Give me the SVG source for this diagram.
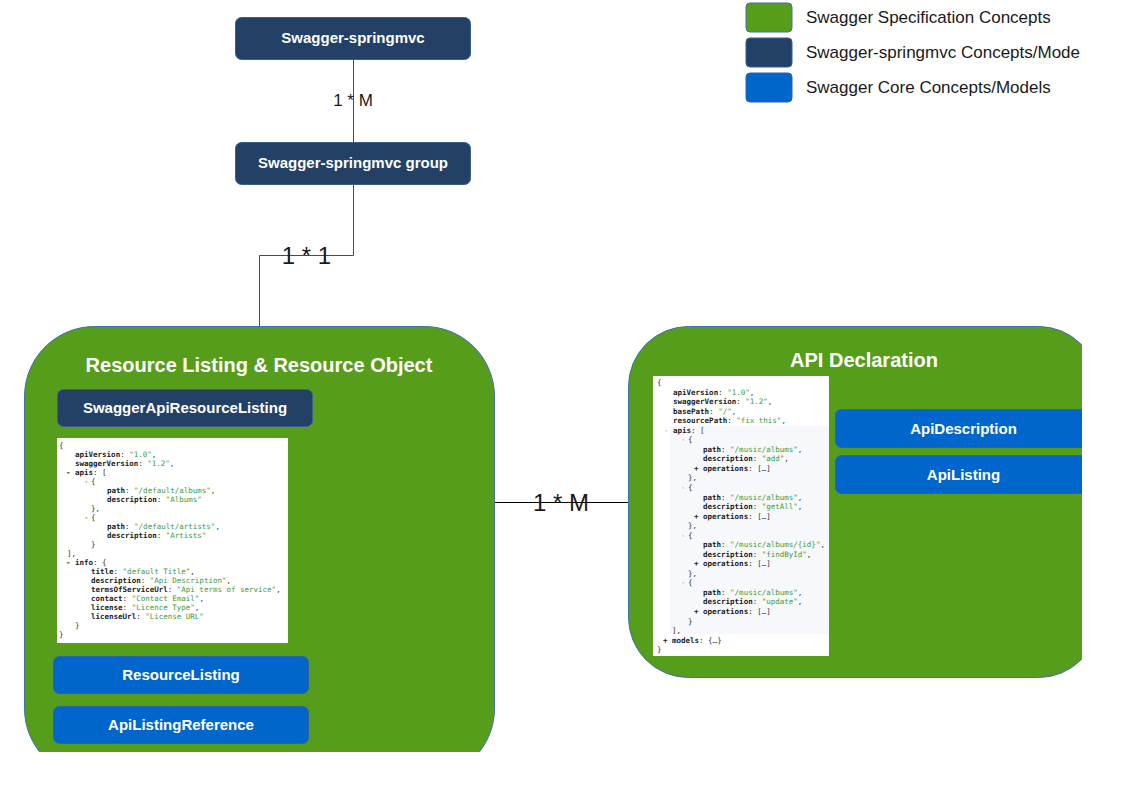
<svg xmlns="http://www.w3.org/2000/svg" width="1123" height="794" viewBox="0 0 1123 794">
<style>
.navy{fill:#234166;stroke:#3a5f8f;stroke-width:1}
.blue{fill:#0066cc;stroke:#2a62b0;stroke-width:1}
.green{fill:#579d1c;stroke:#3f6fb5;stroke-width:1}
.lbl{font-family:"Liberation Sans",Arial,sans-serif;font-weight:bold;fill:#ffffff;text-anchor:middle}
.nl{font-size:15px}
.title{font-size:20px}
.leg{font-family:"Liberation Sans",Arial,sans-serif;font-size:17px;fill:#1a1a1a}
.conn{fill:none;stroke:#2f4f7f;stroke-width:1}
.connb{fill:none;stroke:#000000;stroke-width:1.2}
.cl{font-family:"Liberation Sans",Arial,sans-serif;fill:#1a1a1a;text-anchor:middle}
.code{font-family:"DejaVu Sans Mono","Liberation Mono",monospace;font-size:7.5px;fill:#333333}
.k{font-weight:bold;fill:#1a1a1a}
.s{fill:#3a9a3a}
.m{fill:#999999}
</style>
<defs>
<clipPath id="clipL"><rect x="0" y="0" width="1123" height="752"/></clipPath>
<clipPath id="clipR"><rect x="0" y="0" width="1082" height="794"/></clipPath>
</defs>
<rect x="0" y="0" width="1123" height="794" fill="#ffffff"/>

<g id="legend">
<rect class="green" x="746" y="3" width="46" height="29" rx="4"/>
<rect class="navy" x="746" y="38" width="46" height="29" rx="4"/>
<rect class="blue" x="746" y="73" width="46" height="29" rx="4"/>
<text class="leg" x="806" y="23">Swagger Specification Concepts</text>
<text class="leg" x="806" y="58">Swagger-springmvc Concepts/Mode</text>
<text class="leg" x="806" y="93">Swagger Core Concepts/Models</text>
</g>

<g id="connectors">
<path class="conn" d="M353.5 59 V142"/>
<text class="cl" x="353" y="106" font-size="17">1 * M</text>
<path class="conn" d="M353.5 184 V255.5 H259.5 V326"/>
<text class="cl" x="306.5" y="264" font-size="24" fill="#000">1 * 1</text>
<path class="connb" d="M494 502.5 H628"/>
<text class="cl" x="561" y="511" font-size="24" fill="#000">1 * M</text>
</g>

<g id="swagger-springmvc">
<rect class="navy" x="235.5" y="17.5" width="235" height="42" rx="6"/>
<text class="lbl nl" x="353" y="43">Swagger-springmvc</text>
</g>

<g id="swagger-springmvc-group">
<rect class="navy" x="235.5" y="142.5" width="235" height="42" rx="6"/>
<text class="lbl nl" x="353" y="168">Swagger-springmvc group</text>
</g>

<g id="resource-listing-container" clip-path="url(#clipL)">
<rect class="green" x="24.5" y="326.5" width="470" height="452" rx="70"/>
<text class="lbl title" x="259" y="372">Resource Listing &amp; Resource Object</text>
</g>

<g id="swagger-api-resource-listing">
<rect class="navy" x="57.5" y="389.5" width="255" height="37" rx="6"/>
<text class="lbl nl" x="185" y="413">SwaggerApiResourceListing</text>
</g>

<g id="resource-listing-json">
<rect x="57" y="438" width="231" height="205" fill="#ffffff"/>
<g class="code">
<text x="59" y="448">{</text>
<text x="75" y="457"><tspan class="k">apiVersion</tspan>: <tspan class="s">"1.0"</tspan>,</text>
<text x="75" y="466"><tspan class="k">swaggerVersion</tspan>: <tspan class="s">"1.2"</tspan>,</text>
<text x="66" y="475" class="k">-</text><text x="75" y="475"><tspan class="k">apis</tspan>: [</text>
<text x="84" y="484">-</text><text x="91" y="484">{</text>
<text x="107" y="493"><tspan class="k">path</tspan>: <tspan class="s">"/default/albums"</tspan>,</text>
<text x="107" y="502"><tspan class="k">description</tspan>: <tspan class="s">"Albums"</tspan></text>
<text x="91" y="511">},</text>
<text x="84" y="520">-</text><text x="91" y="520">{</text>
<text x="107" y="529"><tspan class="k">path</tspan>: <tspan class="s">"/default/artists"</tspan>,</text>
<text x="107" y="538"><tspan class="k">description</tspan>: <tspan class="s">"Artists"</tspan></text>
<text x="91" y="547">}</text>
<text x="67" y="556">],</text>
<text x="66" y="565" class="k">-</text><text x="75" y="565"><tspan class="k">info</tspan>: {</text>
<text x="91" y="574"><tspan class="k">title</tspan>: <tspan class="s">"default Title"</tspan>,</text>
<text x="91" y="583"><tspan class="k">description</tspan>: <tspan class="s">"Api Description"</tspan>,</text>
<text x="91" y="592"><tspan class="k">termsOfServiceUrl</tspan>: <tspan class="s">"Api terms of service"</tspan>,</text>
<text x="91" y="601"><tspan class="k">contact</tspan>: <tspan class="s">"Contact Email"</tspan>,</text>
<text x="91" y="610"><tspan class="k">license</tspan>: <tspan class="s">"Licence Type"</tspan>,</text>
<text x="91" y="619"><tspan class="k">licenseUrl</tspan>: <tspan class="s">"License URL"</tspan></text>
<text x="75" y="628">}</text>
<text x="59" y="637">}</text>
</g>
</g>

<g id="resource-listing">
<rect class="blue" x="53.5" y="656.5" width="255" height="37" rx="6"/>
<text class="lbl nl" x="181" y="680">ResourceListing</text>
</g>

<g id="api-listing-reference">
<rect class="blue" x="53.5" y="706.5" width="255" height="37" rx="6"/>
<text class="lbl nl" x="181" y="730">ApiListingReference</text>
</g>

<g id="api-declaration-container" clip-path="url(#clipR)">
<rect class="green" x="628.5" y="326.5" width="470" height="351" rx="60"/>
<text class="lbl title" x="864" y="367">API Declaration</text>
</g>

<g id="api-declaration-json">
<rect x="653" y="376" width="176" height="280" fill="#ffffff"/>
<rect x="670" y="426" width="159" height="208" fill="#f6f8fc"/>
<g class="code">
<text x="657" y="385">{</text>
<text x="673" y="394.5"><tspan class="k">apiVersion</tspan>: <tspan class="s">"1.0"</tspan>,</text>
<text x="673" y="404"><tspan class="k">swaggerVersion</tspan>: <tspan class="s">"1.2"</tspan>,</text>
<text x="673" y="413.6"><tspan class="k">basePath</tspan>: <tspan class="s">"/"</tspan>,</text>
<text x="673" y="423.2"><tspan class="k">resourcePath</tspan>: <tspan class="s">"fix this"</tspan>,</text>
<text x="664" y="432.7" class="m">-</text><text x="673" y="432.7"><tspan class="k">apis</tspan>: [</text>
<text x="681" y="442.2" class="m">-</text><text x="688" y="442.2">{</text>
<text x="703" y="451.8"><tspan class="k">path</tspan>: <tspan class="s">"/music/albums"</tspan>,</text>
<text x="703" y="461.3"><tspan class="k">description</tspan>: <tspan class="s">"add"</tspan>,</text>
<text x="694" y="470.9" class="k">+</text><text x="703" y="470.9"><tspan class="k">operations</tspan>: […]</text>
<text x="688" y="480.4">},</text>
<text x="681" y="489.9" class="m">-</text><text x="688" y="489.9">{</text>
<text x="703" y="499.5"><tspan class="k">path</tspan>: <tspan class="s">"/music/albums"</tspan>,</text>
<text x="703" y="509"><tspan class="k">description</tspan>: <tspan class="s">"getAll"</tspan>,</text>
<text x="694" y="518.6" class="k">+</text><text x="703" y="518.6"><tspan class="k">operations</tspan>: […]</text>
<text x="688" y="528.1">},</text>
<text x="681" y="537.6" class="m">-</text><text x="688" y="537.6">{</text>
<text x="703" y="547.2"><tspan class="k">path</tspan>: <tspan class="s">"/music/albums/{id}"</tspan>,</text>
<text x="703" y="556.7"><tspan class="k">description</tspan>: <tspan class="s">"findById"</tspan>,</text>
<text x="694" y="566.2" class="k">+</text><text x="703" y="566.2"><tspan class="k">operations</tspan>: […]</text>
<text x="688" y="575.8">},</text>
<text x="681" y="585.3" class="m">-</text><text x="688" y="585.3">{</text>
<text x="703" y="594.9"><tspan class="k">path</tspan>: <tspan class="s">"/music/albums"</tspan>,</text>
<text x="703" y="604.4"><tspan class="k">description</tspan>: <tspan class="s">"update"</tspan>,</text>
<text x="694" y="613.9" class="k">+</text><text x="703" y="613.9"><tspan class="k">operations</tspan>: […]</text>
<text x="688" y="623.5">}</text>
<text x="672" y="633">],</text>
<text x="663" y="642.6" class="k">+</text><text x="672" y="642.6"><tspan class="k">models</tspan>: {…}</text>
<text x="657" y="652.1">}</text>
</g>
</g>

<g id="api-description" clip-path="url(#clipR)">
<rect class="blue" x="835.5" y="409.5" width="256" height="38" rx="6"/>
<text class="lbl nl" x="963.5" y="434">ApiDescription</text>
</g>

<g id="api-listing" clip-path="url(#clipR)">
<rect class="blue" x="835.5" y="455.5" width="256" height="38" rx="6"/>
<text class="lbl nl" x="963.5" y="480">ApiListing</text>
</g>
</svg>
